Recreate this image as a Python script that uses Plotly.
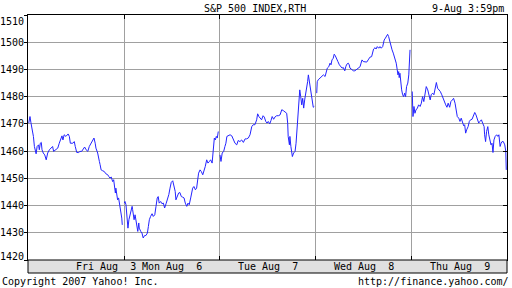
import plotly.graph_objects as go

# ---------------- data ----------------
title_text = "S&P 500 INDEX,RTH"
stamp_text = "9-Aug 3:59pm"
day_labels = ["Fri Aug\u00a0\u00a03", "Mon Aug\u00a0\u00a06", "Tue Aug\u00a0\u00a07",
              "Wed Aug\u00a0\u00a08", "Thu Aug\u00a0\u00a09"]
y_ticks = [1420, 1430, 1440, 1450, 1460, 1470, 1480, 1490, 1500, 1510]

# minutes after the 9:30 open, and index level
fri_min = [3, 8, 12, 22, 26, 33, 37, 43, 46, 50, 54, 57, 62, 68, 74, 80, 87, 93, 100, 104,
           111, 121, 127, 133, 138, 142, 147, 154, 163, 168, 172, 182, 188, 192, 198, 206, 211, 218, 225, 230,
           236, 243, 249, 257, 263, 268, 273, 276, 283, 286, 290, 293, 297, 303, 310, 316, 324, 328, 333, 338,
           344, 348, 351, 355, 357, 360, 364, 368, 371, 375, 378, 381, 383]
fri_px = [1470.3, 1472.7, 1470.4, 1465.4, 1461.7, 1459.0, 1461.7, 1462.3, 1460.5, 1462.9,
          1463.2, 1460.5, 1459.3, 1458.6, 1456.8, 1459.3, 1460.5, 1461.1, 1461.7, 1459.9,
          1460.5, 1461.1, 1462.9, 1464.8, 1465.6, 1464.1, 1466.0, 1465.4, 1466.3, 1465.4,
          1462.9, 1462.9, 1463.5, 1461.7, 1459.5, 1459.5, 1459.9, 1459.9, 1461.1, 1461.5,
          1460.5, 1459.9, 1461.7, 1462.9, 1463.9, 1464.8, 1462.9, 1461.1, 1459.3, 1457.4,
          1456.2, 1455.0, 1453.1, 1452.8, 1452.5, 1451.7, 1451.3, 1450.7, 1450.1, 1450.5,
          1448.8, 1449.5, 1445.8, 1444.6, 1446.4, 1444.0, 1442.1, 1442.8, 1440.9, 1440.3,
          1437.8, 1435.4, 1432.9]

mon_min = [1, 4, 8, 11, 13, 16, 20, 24, 28, 33, 35, 38, 41, 45, 49, 52, 56, 60, 62, 68,
           73, 78, 84, 89, 95, 99, 103, 108, 114, 119, 125, 130, 135, 139, 143, 149, 154, 160, 165, 171,
           176, 182, 187, 192, 198, 203, 208, 211, 217, 222, 227, 233, 238, 244, 249, 255, 260, 265, 271, 275,
           279, 284, 290, 295, 299, 303, 309, 314, 320, 325, 330, 336, 341, 347, 352, 358, 363, 367, 371, 375,
           379, 383]
mon_px = [1440.9, 1441.5, 1440.3, 1437.2, 1435.4, 1431.7, 1434.8, 1436.6, 1437.8, 1439.7,
          1438.5, 1436.0, 1434.8, 1436.6, 1434.8, 1432.3, 1430.5, 1433.6, 1431.7, 1430.5,
          1429.9, 1428.1, 1429.0, 1429.0, 1429.9, 1432.3, 1434.8, 1436.0, 1437.0, 1436.0,
          1436.6, 1439.7, 1442.8, 1443.3, 1440.9, 1441.5, 1440.7, 1440.9, 1439.1, 1440.7,
          1442.1, 1444.0, 1446.4, 1448.5, 1449.1, 1447.6, 1445.2, 1442.1, 1443.3, 1444.6,
          1444.8, 1443.3, 1443.1, 1442.8, 1440.9, 1439.7, 1440.9, 1440.3, 1442.8, 1444.6,
          1446.4, 1447.0, 1445.8, 1446.4, 1449.5, 1451.9, 1453.1, 1452.5, 1451.3, 1452.5,
          1454.3, 1456.8, 1455.6, 1456.2, 1456.8, 1455.6, 1461.7, 1464.8, 1464.1, 1465.4,
          1464.8, 1467.2]

tue_min = [0, 4, 9, 15, 20, 24, 28, 34, 41, 48, 54, 61, 68, 74, 81, 88, 95, 102, 108, 115,
           122, 129, 135, 142, 149, 153, 158, 164, 169, 175, 180, 186, 191, 196, 202, 207, 212, 218, 223, 230,
           237, 244, 251, 257, 264, 271, 275, 277, 282, 284, 288, 294, 299, 305, 309, 313, 317, 321, 324, 328,
           332, 336, 340, 344, 348, 352, 356, 359, 363, 367, 371, 375, 379, 383]
tue_px = [1458.6, 1456.2, 1459.3, 1459.9, 1461.7, 1462.9, 1465.4, 1465.6, 1466.0, 1465.6,
          1464.1, 1462.9, 1462.3, 1463.9, 1463.5, 1464.1, 1463.2, 1464.5, 1464.5, 1464.8,
          1466.0, 1469.0, 1469.7, 1469.7, 1471.5, 1473.7, 1472.7, 1472.1, 1471.5, 1473.0,
          1472.5, 1470.9, 1470.3, 1470.9, 1470.0, 1471.2, 1472.7, 1471.7, 1472.5, 1473.0,
          1473.0, 1473.3, 1475.2, 1474.9, 1474.5, 1473.9, 1470.3, 1465.4, 1462.3, 1465.4,
          1461.7, 1458.0, 1459.3, 1459.9, 1462.9, 1467.8, 1473.3, 1477.0, 1482.5, 1480.0,
          1477.0, 1479.4, 1475.8, 1478.8, 1480.7, 1483.1, 1485.5, 1488.0, 1485.5, 1482.5,
          1480.7, 1478.2, 1476.1, 1476.4]

wed_min = [3, 5, 9, 16, 23, 30, 37, 41, 46, 52, 57, 61, 65, 70, 74, 78, 84, 89, 95, 100,
           106, 111, 117, 121, 125, 131, 135, 138, 145, 152, 158, 165, 172, 179, 183, 187, 192, 199, 206, 212,
           219, 226, 230, 234, 240, 244, 249, 255, 260, 265, 271, 273, 277, 282, 287, 291, 295, 298, 301, 305,
           309, 314, 318, 322, 326, 330, 333, 336, 338, 341, 344, 348, 352, 356, 360, 364, 368, 373, 377, 379,
           382]
wed_px = [1481.3, 1485.5, 1486.2, 1486.8, 1487.4, 1488.0, 1487.4, 1488.6, 1490.5, 1491.0,
          1492.3, 1491.7, 1493.5, 1494.1, 1495.6, 1495.1, 1494.1, 1492.9, 1491.7, 1491.0,
          1490.5, 1490.7, 1489.5, 1491.0, 1491.9, 1492.3, 1491.7, 1490.5, 1489.9, 1489.5,
          1489.5, 1489.9, 1490.5, 1491.0, 1492.3, 1493.5, 1492.9, 1492.9, 1492.7, 1493.5,
          1494.5, 1494.7, 1496.0, 1497.5, 1498.0, 1497.5, 1498.4, 1497.8, 1498.4, 1497.8,
          1498.4, 1499.6, 1500.8, 1501.5, 1502.7, 1502.9, 1502.1, 1500.8, 1499.6, 1497.8,
          1497.2, 1496.0, 1494.7, 1493.5, 1492.3, 1489.9, 1488.0, 1489.2, 1487.0, 1488.6,
          1485.0, 1482.5, 1480.7, 1480.0, 1481.3, 1480.0, 1483.7, 1485.0, 1488.0, 1492.9,
          1497.2]

thu_min = [1, 4, 8, 12, 16, 22, 27, 33, 38, 43, 48, 53, 58, 64, 69, 74, 78, 84, 89, 93,
           99, 104, 110, 115, 121, 126, 131, 137, 142, 147, 153, 158, 164, 169, 175, 180, 184, 190, 195, 200,
           206, 210, 214, 218, 222, 228, 233, 238, 244, 249, 255, 260, 265, 271, 276, 282, 287, 293, 295, 299,
           303, 308, 312, 317, 321, 325, 329, 333, 338, 344, 349, 353, 358, 362, 366, 371, 377, 381, 383]
thu_px = [1481.9, 1472.7, 1476.4, 1473.9, 1475.1, 1475.8, 1477.0, 1476.4, 1477.6, 1480.0,
          1478.2, 1481.3, 1483.7, 1482.5, 1480.7, 1478.8, 1480.7, 1481.3, 1480.7, 1483.1,
          1485.2, 1483.1, 1482.5, 1481.9, 1480.7, 1479.4, 1478.2, 1477.0, 1476.1, 1477.6,
          1476.1, 1478.2, 1478.8, 1479.4, 1477.6, 1475.1, 1472.7, 1472.1, 1470.9, 1472.1,
          1470.3, 1469.3, 1469.7, 1466.6, 1467.8, 1469.0, 1470.9, 1471.5, 1471.7, 1472.7,
          1474.2, 1473.3, 1471.5, 1470.3, 1470.9, 1471.5, 1470.3, 1469.0, 1466.0, 1463.5,
          1467.2, 1469.0, 1466.0, 1463.5, 1462.3, 1462.9, 1459.5, 1464.1, 1465.4, 1466.0,
          1465.4, 1466.0, 1461.7, 1462.9, 1463.5, 1463.5, 1462.3, 1459.9, 1453.1]

# ---------------- build ----------------
SESSION = 390  # minutes per trading day
days = [(fri_min, fri_px), (mon_min, mon_px), (tue_min, tue_px),
        (wed_min, wed_px), (thu_min, thu_px)]
xs, ys = [], []
for d, (mins, prices) in enumerate(days):
    xs += [d * SESSION + m for m in mins] + [None]
    ys += list(prices) + [None]

FONT = "DejaVu Sans Mono"
GRID = "#a0a0a0"
x_max = 4 * SESSION + 386
plot_h = 288 - 15 - 28
plot_w = 512 - 28 - 5

fig = go.Figure()
fig.add_trace(go.Scatter(x=xs, y=ys, mode="lines", connectgaps=False,
                         line=dict(color="#2323ff", width=1), hoverinfo="skip",
                         showlegend=False))
fig.add_trace(go.Scatter(x=[None], y=[None], yaxis="y2", showlegend=False,
                         hoverinfo="skip"))

annotations = [
    dict(text=title_text, x=(255 - 28) / plot_w, y=1 + 7 / plot_h, xref="paper", yref="paper",
         xanchor="center", yanchor="middle", showarrow=False, borderpad=0),
    dict(text=stamp_text, x=(505 - 28) / plot_w, y=1 + 7 / plot_h, xref="paper", yref="paper",
         xanchor="right", yanchor="middle", showarrow=False, borderpad=0),
    dict(text="Copyright 2007 Yahoo! Inc.", x=-27 / plot_w, y=-21 / plot_h, xref="paper",
         yref="paper", xanchor="left", yanchor="middle", showarrow=False, borderpad=0),
    dict(text="http://finance.yahoo.com/", x=(510 - 28) / plot_w, y=-21 / plot_h, xref="paper",
         yref="paper", xanchor="right", yanchor="middle", showarrow=False, borderpad=0),
]
for i, lab in enumerate(day_labels):
    cx = i * SESSION + SESSION / 2 + (120 if i == 0 else 0)
    annotations.append(dict(text=lab, x=cx, y=-6.5 / plot_h, xref="x", yref="paper",
                            xanchor="center", yanchor="middle", showarrow=False, borderpad=0))
for v in y_ticks:
    shift = -6 if v == y_ticks[-1] else (4 if v == y_ticks[0] else 0)
    annotations.append(dict(text=str(v), x=0, y=v, xref="paper", yref="y", xanchor="right",
                            yanchor="middle", xshift=-3, yshift=shift, showarrow=False,
                            borderpad=0))

fig.update_layout(
    width=512, height=288,
    margin=dict(l=28, r=5, t=15, b=28, pad=0),
    paper_bgcolor="white", plot_bgcolor="white",
    font=dict(family=FONT, size=10, color="black"),
    showlegend=False,
    xaxis=dict(range=[0, x_max], tickvals=[SESSION * k for k in range(1, 5)],
               showticklabels=False, ticks="inside", ticklen=4, tickcolor="black", tickwidth=1,
               showgrid=True, gridcolor=GRID, gridwidth=1, showline=True, linecolor="black",
               linewidth=1, mirror="ticks", zeroline=False, fixedrange=True),
    yaxis=dict(range=[y_ticks[0], y_ticks[-1]], tickvals=y_ticks, showticklabels=False,
               ticks="outside", ticklen=3, tickcolor="black", tickwidth=1,
               showgrid=True, gridcolor=GRID, gridwidth=1, showline=True, linecolor="black",
               linewidth=1, mirror=True, zeroline=False, fixedrange=True),
    yaxis2=dict(range=[y_ticks[0], y_ticks[-1]], overlaying="y", side="right", tickvals=y_ticks,
                showticklabels=False, ticks="inside", ticklen=4, tickcolor="black",
                showgrid=False, showline=False, zeroline=False, fixedrange=True),
    shapes=[dict(type="rect", xref="paper", yref="paper", x0=0, x1=1, y0=-13 / plot_h, y1=0,
                 fillcolor="#e0e0e0", line=dict(color="black", width=1), layer="above")],
    annotations=annotations,
)

fig.write_html("out.html", config={"displayModeBar": False})
